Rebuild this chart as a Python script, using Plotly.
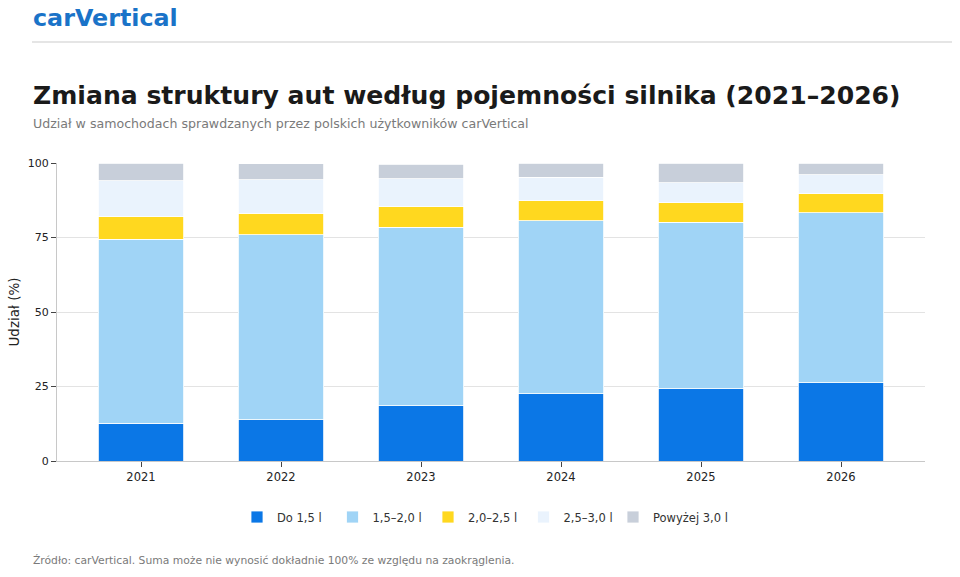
import plotly.graph_objects as go

years = ["2021", "2022", "2023", "2024", "2025", "2026"]
do_15 = [12.6, 13.9, 18.6, 22.5, 24.3, 26.2]
r15_20 = [61.8, 62.1, 59.9, 58.2, 55.9, 57.1]
r20_25 = [7.5, 7.1, 6.8, 6.7, 6.5, 6.3]
r25_30 = [12.1, 11.2, 9.5, 7.9, 6.7, 6.4]
pow_30 = [6.0, 5.5, 4.8, 4.6, 6.6, 4.0]

series = [
    ("Do 1,5 l", do_15, "#0B77E6", "legend"),
    ("1,5–2,0 l", r15_20, "#A0D4F6", "legend"),
    ("2,0–2,5 l", r20_25, "#FFD81F", "legend"),
    ("2,5–3,0 l", r25_30, "#EAF3FD", "legend"),
    ("Powyżej 3,0 l", pow_30, "#C8CFDA", "legend2"),
]

W, H = 960, 577
ML, MR, MT, MB = 57, 35, 163, 116
PW = W - ML - MR
PH = H - MT - MB


def px(x):
    return (x - ML) / PW


def py(y):
    return (H - MB - y) / PH


fig = go.Figure()
for name, vals, col, leg in series:
    fig.add_trace(go.Bar(
        x=years, y=vals, name=name, legend=leg,
        marker=dict(color=col, line=dict(color="white", width=0.8)),
    ))

legend_font = dict(size=11.5, color="#333333")
fig.update_layout(
    width=W, height=H,
    barmode="stack", bargap=0.386,
    margin=dict(l=ML, r=MR, t=MT, b=MB),
    paper_bgcolor="white", plot_bgcolor="white",
    font=dict(family="DejaVu Sans", color="#222222"),
    showlegend=True,
    legend=dict(orientation="h", x=px(237), xanchor="left", y=py(517), yanchor="middle",
                font=legend_font, traceorder="normal",
                entrywidth=50.5, entrywidthmode="pixels"),
    legend2=dict(orientation="h", x=px(613), xanchor="left", y=py(517), yanchor="middle",
                 font=legend_font),
    xaxis=dict(range=[-0.6, 5.6], showline=True, linecolor="#C8C8C8", linewidth=1,
               ticks="outside", ticklen=5, tickcolor="#444444",
               tickfont=dict(size=11.5, color="#222222"), showgrid=False),
    yaxis=dict(range=[0, 100], tickvals=[0, 25, 50, 75, 100], showline=True,
               linecolor="#C8C8C8", linewidth=1, ticks="outside", ticklen=5,
               tickcolor="#444444", gridcolor="#E3E3E3", gridwidth=1,
               tickfont=dict(size=11, color="#222222"),
               title=dict(text="Udział (%)", font=dict(size=13.5, color="#222222"), standoff=5),
               zeroline=False),
)

fig.add_annotation(text="<b>carVertical</b>", xref="paper", yref="paper",
                   x=px(31), y=py(18), xanchor="left", yanchor="middle",
                   showarrow=False, font=dict(size=23.8, color="#1A73C8"))
fig.add_shape(type="line", xref="paper", yref="paper", x0=px(32), x1=px(952),
              y0=py(42), y1=py(42), line=dict(color="#DDDDDD", width=1.5))
fig.add_annotation(text="<b>Zmiana struktury aut według pojemności silnika (2021–2026)</b>",
                   xref="paper", yref="paper", x=px(31), y=py(95), xanchor="left",
                   yanchor="middle", showarrow=False, font=dict(size=25.1, color="#1A1A1A"))
fig.add_annotation(text="Udział w samochodach sprawdzanych przez polskich użytkowników carVertical",
                   xref="paper", yref="paper", x=px(31), y=py(123), xanchor="left",
                   yanchor="middle", showarrow=False, font=dict(size=12.6, color="#7A7A7A"))
fig.add_annotation(text="Źródło: carVertical. Suma może nie wynosić dokładnie 100% ze względu na zaokrąglenia.",
                   xref="paper", yref="paper", x=px(31), y=py(560), xanchor="left",
                   yanchor="middle", showarrow=False, font=dict(size=10.75, color="#7A7A7A"))

fig.write_html(
    "out.html",
    config={"displayModeBar": False},
    post_script="document.body.style.margin='0';document.body.style.padding='0';"
                "document.documentElement.style.margin='0';",
)
